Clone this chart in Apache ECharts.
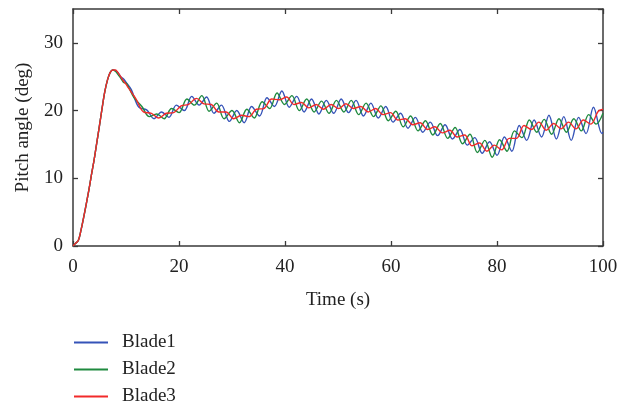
<!DOCTYPE html>
<html>
<head>
<meta charset="utf-8">
<script src="https://cdn.jsdelivr.net/npm/echarts@6/dist/echarts.min.js"></script>
<style>
html,body{margin:0;padding:0;background:#fff;}
#chart{width:634px;height:407px;}
</style>
</head>
<body>
<div id="chart"></div>
<script>
// ---- data ----
const xTicks = [0, 20, 40, 60, 80, 100];
const yTicks = [0, 10, 20, 30];
const seriesNames = ['Blade1', 'Blade2', 'Blade3'];

const startT = [0, 0.5, 1, 1.5, 2, 2.5, 3, 3.5, 4, 4.5, 5, 5.5, 6, 6.5, 7, 7.5];
const startV = [0, 0.4, 0.8, 2.3, 4.2, 6.2, 8.3, 10.6, 12.8, 15.3, 17.8, 20.4, 22.8, 24.5, 25.6, 26.0];

const blade1T = [8, 8.5, 9, 9.5, 10, 11, 12.4, 13.9, 15.3, 16.7, 18.1, 19.5, 21, 22.4, 23.8, 25.2, 26.6, 28, 29.5, 30.9, 32.3, 33.7, 35.2, 36.6, 38, 39.4, 40.8, 42.2, 43.6, 45, 46.4, 47.8, 49.2, 50.6, 52, 53.4, 54.8, 56.2, 57.6, 59, 60.4, 61.8, 63.2, 64.6, 66, 67.4, 68.8, 70.2, 71.6, 73, 74.4, 75.8, 77.2, 78.6, 80, 81.4, 82.8, 84.2, 85.6, 87, 88.4, 89.8, 91.2, 92.6, 94, 95.4, 96.8, 98.2, 99.8, 100];
const blade1V = [25.9, 25.6, 25.0, 24.7, 24.2, 23.1, 20.5, 20.1, 18.8, 19.8, 19.0, 20.8, 20.0, 22.1, 20.8, 22.0, 19.6, 20.8, 18.4, 20.0, 18.2, 20.6, 19.2, 21.9, 20.6, 22.9, 20.5, 22.1, 19.8, 21.7, 19.5, 21.5, 19.6, 21.7, 19.7, 21.5, 19.2, 21.1, 18.9, 20.6, 18.3, 19.6, 17.4, 19.0, 16.8, 18.3, 16.3, 17.9, 15.8, 17.2, 14.9, 16.0, 13.7, 15.4, 13.4, 16.1, 14.0, 17.8, 15.6, 18.6, 16.1, 19.3, 15.8, 19.1, 15.6, 19.0, 16.6, 20.5, 16.6, 16.8];

const blade2T = [8, 8.5, 9, 9.5, 10.1, 11.5, 13, 14.4, 15.8, 17.2, 18.6, 20, 21.5, 22.9, 24.3, 25.7, 27.1, 28.5, 30, 31.4, 32.8, 34.2, 35.7, 37.1, 38.5, 39.9, 41.3, 42.7, 44.1, 45.5, 46.9, 48.3, 49.7, 51.1, 52.5, 53.9, 55.3, 56.7, 58.1, 59.5, 60.9, 62.3, 63.7, 65.1, 66.5, 67.9, 69.3, 70.7, 72.1, 73.5, 74.9, 76.3, 77.7, 79.1, 80.5, 81.9, 83.3, 84.7, 86.1, 87.5, 88.9, 90.3, 91.7, 93.1, 94.5, 95.9, 97.3, 98.7, 100];
const blade2V = [25.8, 25.3, 24.8, 24.2, 24.0, 21.9, 20.6, 19.1, 19.5, 18.8, 20.3, 19.7, 21.7, 20.8, 22.2, 19.9, 21.1, 18.8, 20.0, 18.2, 20.2, 18.9, 21.3, 20.3, 22.6, 20.9, 22.2, 20.0, 21.7, 19.8, 21.4, 19.6, 21.5, 19.8, 21.5, 19.4, 21.1, 19.1, 20.7, 18.5, 19.9, 17.6, 19.2, 17.0, 18.5, 16.4, 18.1, 15.9, 17.5, 15.1, 16.5, 13.8, 15.6, 13.1, 15.7, 14.0, 17.0, 16.0, 18.6, 16.8, 18.7, 16.5, 18.8, 16.8, 18.8, 17.0, 19.4, 18.0, 19.6];

const blade3T = [8, 8.5, 9, 9.5, 10, 10.5, 11.2, 11.9, 13.3, 14.8, 16.2, 17.6, 19, 20.4, 21.8, 23.3, 24.7, 26.1, 27.5, 28.9, 30.3, 31.8, 33.2, 34.6, 36, 37.5, 38.9, 40.3, 41.7, 43.1, 44.5, 45.9, 47.3, 48.7, 50.1, 51.5, 52.9, 54.3, 55.7, 57.1, 58.5, 59.9, 61.3, 62.7, 64.1, 65.5, 66.9, 68.3, 69.7, 71.1, 72.5, 73.9, 75.3, 76.7, 78.1, 79.5, 80.9, 82.3, 83.7, 85.1, 86.5, 87.9, 89.3, 90.7, 92.1, 93.5, 94.9, 96.3, 97.7, 99.1, 100];
const blade3V = [26.0, 25.6, 25.0, 24.4, 23.9, 23.3, 22.5, 21.7, 19.8, 19.6, 18.9, 19.6, 19.7, 20.7, 20.9, 21.8, 21.0, 20.9, 19.8, 19.8, 18.8, 19.3, 19.1, 20.2, 20.3, 21.7, 21.6, 22.0, 20.9, 21.2, 20.4, 20.9, 20.2, 20.9, 20.3, 21.0, 20.3, 20.6, 19.8, 20.3, 19.4, 19.7, 18.6, 18.8, 17.9, 18.2, 17.2, 17.6, 16.7, 17.1, 16.1, 16.4, 14.8, 15.2, 14.0, 14.9, 14.2, 15.9, 15.9, 17.8, 17.2, 18.3, 17.1, 18.1, 17.3, 18.3, 17.3, 18.6, 18.0, 19.9, 20.2];

const colors = ['#3553b8', '#1f8a3f', '#f22a2a'];

// ---- build ----
function pairs(tArr, vArr) {
  const out = [];
  for (let i = 0; i < startT.length; i++) out.push([startT[i], startV[i]]);
  for (let i = 0; i < tArr.length; i++) out.push([tArr[i], vArr[i]]);
  return out;
}
const allData = [pairs(blade1T, blade1V), pairs(blade2T, blade2V), pairs(blade3T, blade3V)];

const FONT = 'Liberation Serif';
const axisLineStyle = { color: '#3a3a3a', width: 1.5 };
const tickStyle = { show: true, inside: true, length: 5, lineStyle: { color: '#3a3a3a', width: 1.3 } };

const chart = echarts.init(document.getElementById('chart'), null, { renderer: 'canvas' });
chart.setOption({
  animation: false,
  backgroundColor: '#fff',
  color: colors,
  grid: { left: 73, right: 31, top: 9, height: 237, containLabel: false },
  legend: {
    orient: 'vertical', left: 74, top: 333, padding: 0, height: 74,
    itemWidth: 34, itemHeight: 2, itemGap: 8, icon: 'rect',
    data: seriesNames,
    textStyle: { fontFamily: FONT, fontSize: 19, lineHeight: 19, color: '#222', padding: [0, 0, 0, 9] }
  },
  xAxis: [
    {
      type: 'value', min: xTicks[0], max: xTicks[xTicks.length - 1], interval: xTicks[1] - xTicks[0],
      position: 'bottom',
      name: 'Time (s)', nameLocation: 'middle', nameGap: 45,
      nameTextStyle: { fontFamily: FONT, fontSize: 19, color: '#222' },
      axisLine: { show: true, onZero: false, lineStyle: axisLineStyle },
      axisTick: tickStyle,
      axisLabel: { fontFamily: FONT, fontSize: 19, color: '#222', margin: 12 },
      splitLine: { show: false }
    },
    {
      type: 'value', min: xTicks[0], max: xTicks[xTicks.length - 1], interval: xTicks[1] - xTicks[0],
      position: 'top',
      axisLine: { show: true, onZero: false, lineStyle: axisLineStyle },
      axisTick: tickStyle,
      axisLabel: { show: false },
      splitLine: { show: false }
    }
  ],
  yAxis: [
    {
      type: 'value', min: yTicks[0], max: 35, interval: yTicks[1] - yTicks[0],
      position: 'left',
      name: 'Pitch angle (deg)', nameLocation: 'middle', nameGap: 40, nameRotate: 90,
      nameTextStyle: { fontFamily: FONT, fontSize: 19, color: '#222' },
      axisLine: { show: true, onZero: false, lineStyle: axisLineStyle },
      axisTick: tickStyle,
      axisLabel: { fontFamily: FONT, fontSize: 19, color: '#222', margin: 10, showMaxLabel: false,
        formatter: v => (yTicks.indexOf(v) >= 0 ? String(v) : '') },
      splitLine: { show: false }
    },
    {
      type: 'value', min: yTicks[0], max: 35, interval: yTicks[1] - yTicks[0],
      position: 'right',
      axisLine: { show: true, onZero: false, lineStyle: axisLineStyle },
      axisTick: tickStyle,
      axisLabel: { show: false },
      splitLine: { show: false }
    }
  ],
  series: seriesNames.map((n, i) => ({
    name: n, type: 'line', xAxisIndex: 0, yAxisIndex: 0,
    data: allData[i], symbol: 'none', smooth: 0.35,
    lineStyle: { width: 1.4, color: colors[i] },
    itemStyle: { color: colors[i] },
    z: 2 + i
  }))
});
</script>
</body>
</html>
